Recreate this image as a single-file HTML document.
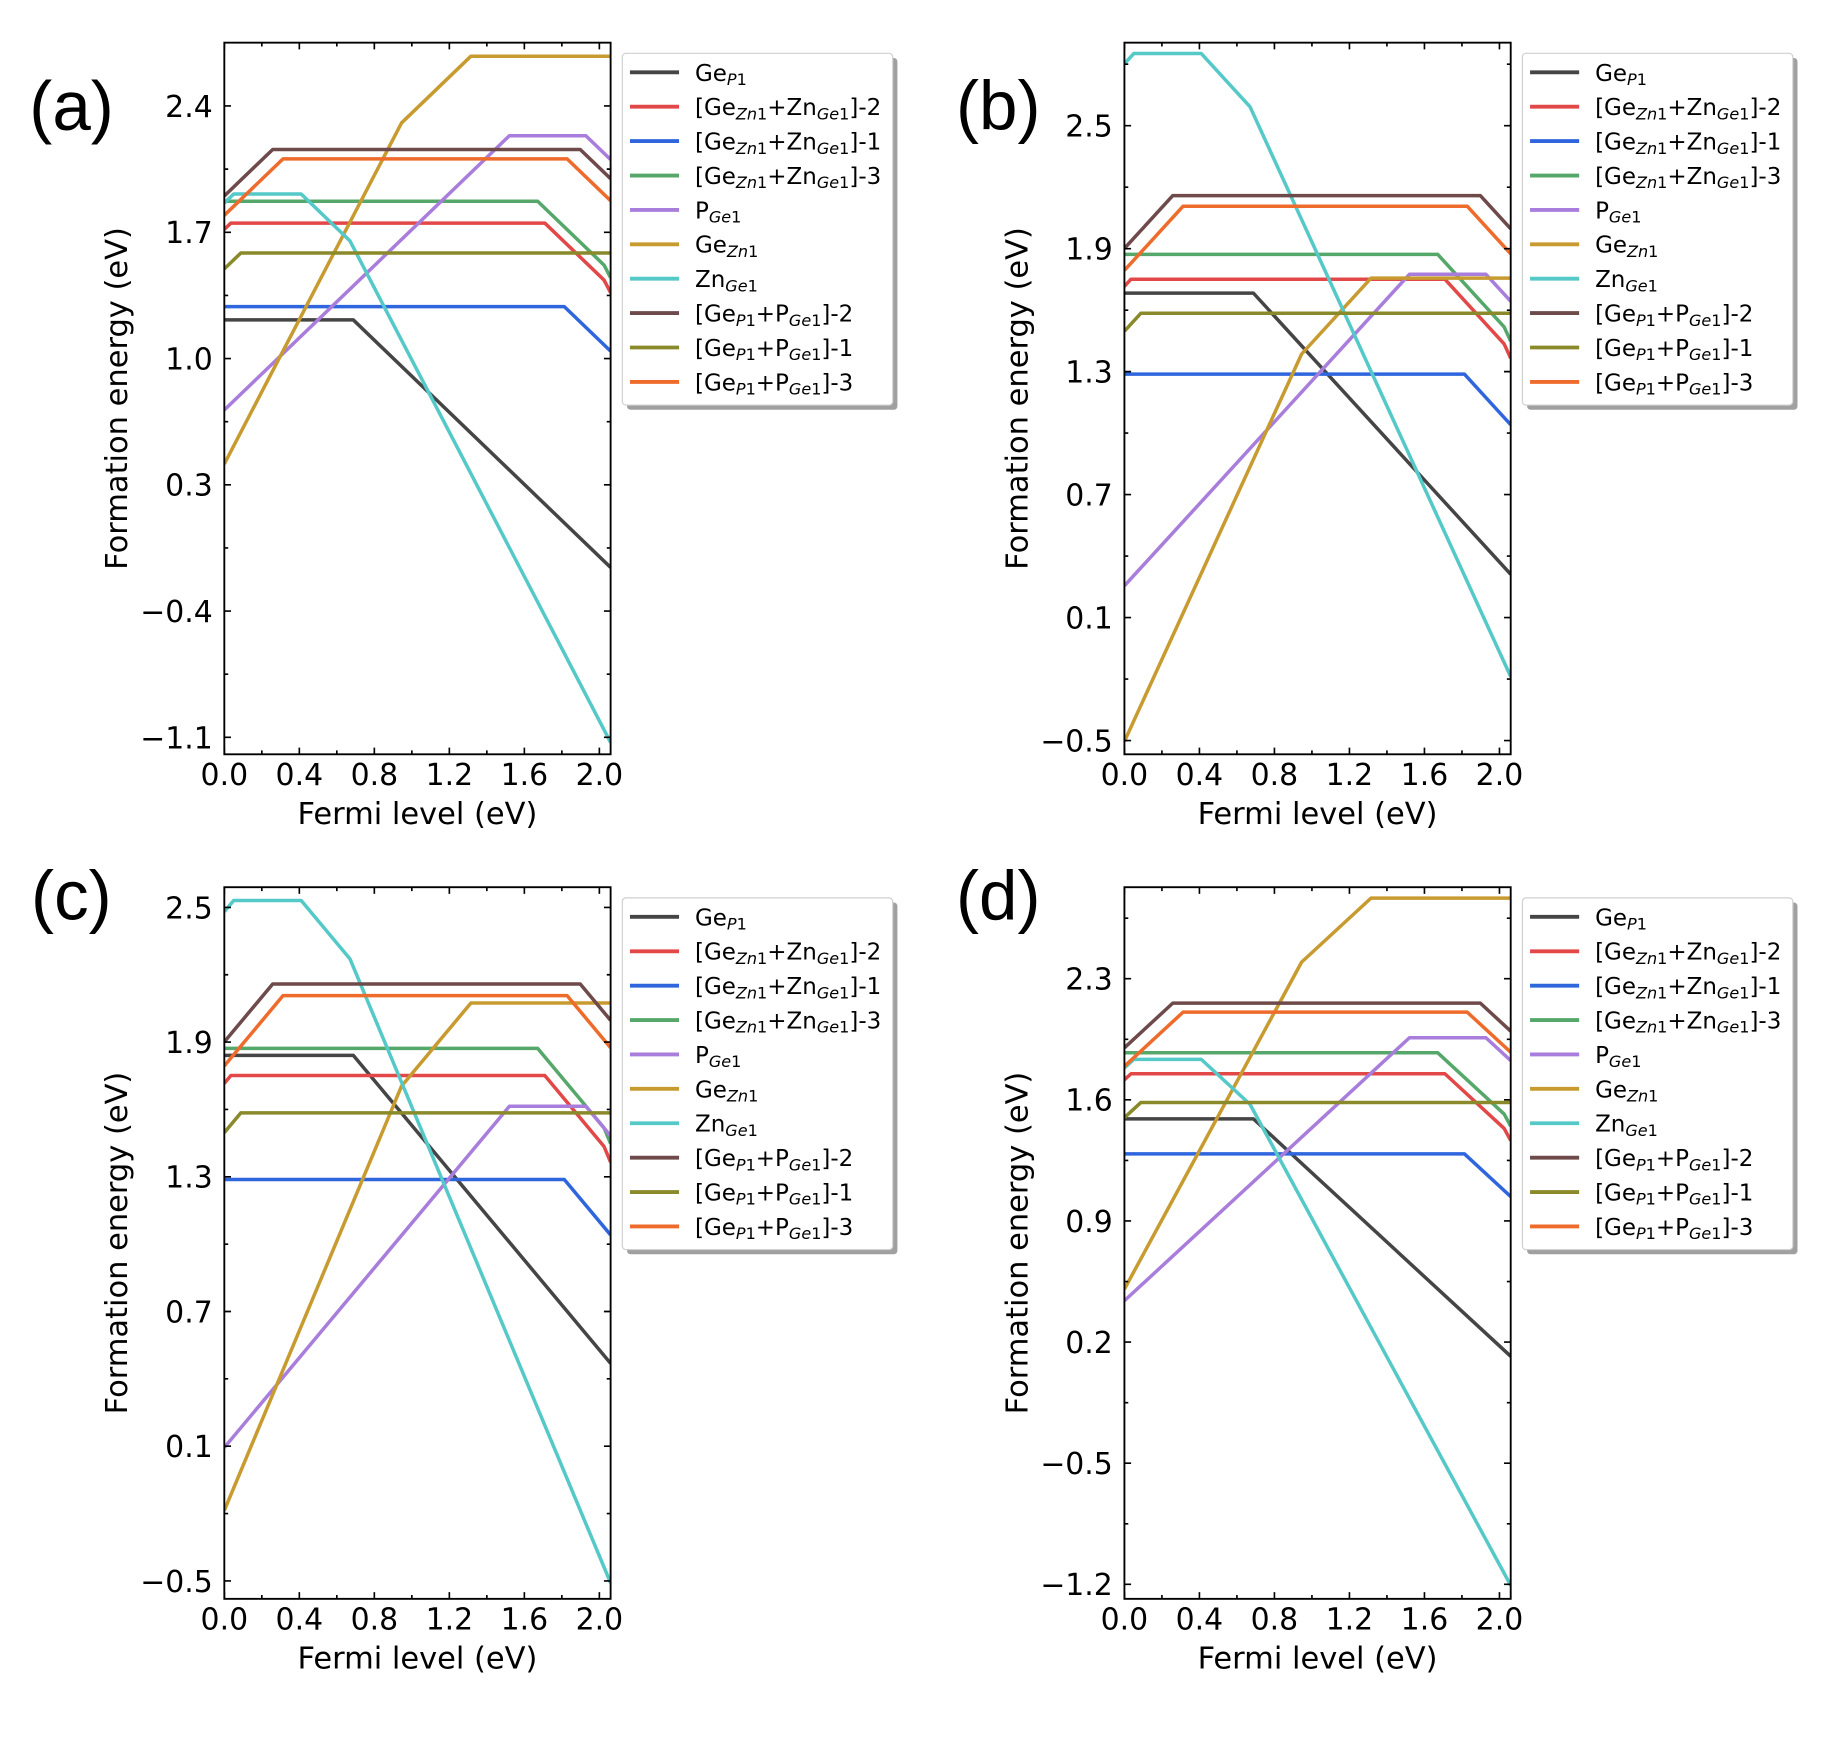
<!DOCTYPE html>
<html><head><meta charset="utf-8"><style>
html,body{margin:0;padding:0;background:#fff}
svg{display:block}
polyline{vector-effect:non-scaling-stroke;fill:none;stroke-width:3.5;stroke-linejoin:round}
.t{font-family:"DejaVu Sans","Liberation Sans",sans-serif;font-size:25.5px;fill:#000}
.ax{font-family:"DejaVu Sans","Liberation Sans",sans-serif;font-size:26px;fill:#000}
.lg{font-family:"DejaVu Sans","Liberation Sans",sans-serif;font-size:19.6px;fill:#000}
.s{font-size:13.7px}
.i{font-style:italic}
.pl{font-family:"Liberation Sans",Arial,sans-serif;font-size:59px;fill:#000}
</style></head><body>
<svg xmlns="http://www.w3.org/2000/svg" width="1834" height="1744" viewBox="0 0 1564.85 1488.05" preserveAspectRatio="none">
<defs><clipPath id="cp"><rect x="191.4" y="36.4" width="329.6" height="607.2"/></clipPath></defs>
<rect x="0" y="0" width="1564.85" height="1488.05" fill="#fff"/>

<!-- panel labels -->
<text class="pl" x="25" y="111">(a)</text>
<text class="pl" x="815.7" y="110.5">(b)</text>
<text class="pl" x="26.5" y="784.5">(c)</text>
<text class="pl" x="815.7" y="784.5">(d)</text>

<!-- ================= PANEL A ================= -->
<g transform="translate(0,0)">
 <g clip-path="url(#cp)">
  <g transform="matrix(160 0 0 -153.92 191.4 459.84)">
   <polyline stroke="#454545" points="0,1.214 0.688,1.214 2.06,-0.158"/>
   <polyline stroke="#e24848" points="0,1.716 0.035,1.751 1.709,1.751 2.025,1.435 2.06,1.365"/>
   <polyline stroke="#2f66dd" points="0,1.288 1.813,1.288 2.06,1.041"/>
   <polyline stroke="#56a86a" points="0,1.872 1.671,1.872 2.025,1.518 2.06,1.448"/>
   <polyline stroke="#a97ddb" points="0,0.715 1.52,2.235 1.928,2.235 2.06,2.103"/>
   <polyline stroke="#c89b30" points="0,0.416 0.945,2.306 1.315,2.676 2.06,2.676"/>
   <polyline stroke="#55c8c8" points="0,1.862 0.05,1.912 0.41,1.912 0.67,1.652 2.06,-1.128"/>
   <polyline stroke="#6e4a4a" points="0,1.901 0.258,2.159 1.898,2.159 2.06,1.997"/>
   <polyline stroke="#8a8a2b" points="0,1.497 0.088,1.585 2.06,1.585"/>
   <polyline stroke="#ee6b2b" points="0,1.794 0.313,2.107 1.828,2.107 2.06,1.875"/>
  </g>
 </g>
 <rect x="191.4" y="36.4" width="329.6" height="607.2" fill="none" stroke="#000" stroke-width="1.6"/>
 <path stroke="#000" stroke-width="1.4" fill="none" d="M191.4 643.6v-5.7M255.4 643.6v-5.7M319.4 643.6v-5.7M383.4 643.6v-5.7M447.4 643.6v-5.7M511.4 643.6v-5.7M223.4 643.6v-3.3M287.4 643.6v-3.3M351.4 643.6v-3.3M415.4 643.6v-3.3M479.4 643.6v-3.3M191.4 36.4v5.7M255.4 36.4v5.7M319.4 36.4v5.7M383.4 36.4v5.7M447.4 36.4v5.7M511.4 36.4v5.7M223.4 36.4v3.3M287.4 36.4v3.3M351.4 36.4v3.3M415.4 36.4v3.3M479.4 36.4v3.3
 M191.4 90.43h5.7M191.4 198.18h5.7M191.4 305.92h5.7M191.4 413.66h5.7M191.4 521.41h5.7M191.4 629.15h5.7
 M521 90.43h-5.7M521 198.18h-5.7M521 305.92h-5.7M521 413.66h-5.7M521 521.41h-5.7M521 629.15h-5.7
 M191.4 144.3h3.3M191.4 252.05h3.3M191.4 359.79h3.3M191.4 467.54h3.3M191.4 575.28h3.3
 M521 144.3h-3.3M521 252.05h-3.3M521 359.79h-3.3M521 467.54h-3.3M521 575.28h-3.3"/>
 <g class="t" text-anchor="end">
  <text x="181.5" y="99.73">2.4</text><text x="181.5" y="207.48">1.7</text><text x="181.5" y="315.22">1.0</text><text x="181.5" y="422.96">0.3</text><text x="181.5" y="530.71">−0.4</text><text x="181.5" y="638.45">−1.1</text>
 </g>
 <g class="t" text-anchor="middle">
  <text x="191.4" y="669.8">0.0</text><text x="255.4" y="669.8">0.4</text><text x="319.4" y="669.8">0.8</text><text x="383.4" y="669.8">1.2</text><text x="447.4" y="669.8">1.6</text><text x="511.4" y="669.8">2.0</text>
 </g>
 <text class="ax" x="356.2" y="703" text-anchor="middle">Fermi level (eV)</text>
 <text class="ax" transform="translate(108.5,340) rotate(-90)" text-anchor="middle">Formation energy (eV)</text>
 <g>
  <rect x="535" y="49.5" width="230.7" height="300.1" rx="3" fill="#a0a0a0"/>
  <rect x="531" y="45.5" width="230.7" height="300.1" rx="3" fill="#fff" stroke="#d0d0d0" stroke-width="1"/>
  <g stroke-width="3.3">
   <line x1="537.5" x2="579.4" y1="61.7" y2="61.7" stroke="#454545"/>
   <line x1="537.5" x2="579.4" y1="91.05" y2="91.05" stroke="#e24848"/>
   <line x1="537.5" x2="579.4" y1="120.4" y2="120.4" stroke="#2f66dd"/>
   <line x1="537.5" x2="579.4" y1="149.75" y2="149.75" stroke="#56a86a"/>
   <line x1="537.5" x2="579.4" y1="179.1" y2="179.1" stroke="#a97ddb"/>
   <line x1="537.5" x2="579.4" y1="208.45" y2="208.45" stroke="#c89b30"/>
   <line x1="537.5" x2="579.4" y1="237.8" y2="237.8" stroke="#55c8c8"/>
   <line x1="537.5" x2="579.4" y1="267.15" y2="267.15" stroke="#6e4a4a"/>
   <line x1="537.5" x2="579.4" y1="296.5" y2="296.5" stroke="#8a8a2b"/>
   <line x1="537.5" x2="579.4" y1="325.85" y2="325.85" stroke="#ee6b2b"/>
  </g>
  <g class="lg">
   <text x="593" y="68.9">Ge<tspan class="s" dy="3.6"><tspan class="i">P</tspan>1</tspan></text>
   <text x="593" y="98.25">[Ge<tspan class="s" dy="3.6"><tspan class="i">Zn</tspan>1</tspan><tspan dy="-3.6">+Zn</tspan><tspan class="s" dy="3.6"><tspan class="i">Ge</tspan>1</tspan><tspan dy="-3.6">]-2</tspan></text>
   <text x="593" y="127.6">[Ge<tspan class="s" dy="3.6"><tspan class="i">Zn</tspan>1</tspan><tspan dy="-3.6">+Zn</tspan><tspan class="s" dy="3.6"><tspan class="i">Ge</tspan>1</tspan><tspan dy="-3.6">]-1</tspan></text>
   <text x="593" y="156.95">[Ge<tspan class="s" dy="3.6"><tspan class="i">Zn</tspan>1</tspan><tspan dy="-3.6">+Zn</tspan><tspan class="s" dy="3.6"><tspan class="i">Ge</tspan>1</tspan><tspan dy="-3.6">]-3</tspan></text>
   <text x="593" y="186.3">P<tspan class="s" dy="3.6"><tspan class="i">Ge</tspan>1</tspan></text>
   <text x="593" y="215.65">Ge<tspan class="s" dy="3.6"><tspan class="i">Zn</tspan>1</tspan></text>
   <text x="593" y="245">Zn<tspan class="s" dy="3.6"><tspan class="i">Ge</tspan>1</tspan></text>
   <text x="593" y="274.35">[Ge<tspan class="s" dy="3.6"><tspan class="i">P</tspan>1</tspan><tspan dy="-3.6">+P</tspan><tspan class="s" dy="3.6"><tspan class="i">Ge</tspan>1</tspan><tspan dy="-3.6">]-2</tspan></text>
   <text x="593" y="303.7">[Ge<tspan class="s" dy="3.6"><tspan class="i">P</tspan>1</tspan><tspan dy="-3.6">+P</tspan><tspan class="s" dy="3.6"><tspan class="i">Ge</tspan>1</tspan><tspan dy="-3.6">]-1</tspan></text>
   <text x="593" y="333.05">[Ge<tspan class="s" dy="3.6"><tspan class="i">P</tspan>1</tspan><tspan dy="-3.6">+P</tspan><tspan class="s" dy="3.6"><tspan class="i">Ge</tspan>1</tspan><tspan dy="-3.6">]-3</tspan></text>
  </g>
 </g>
</g>

<!-- ================= PANEL B ================= -->
<g transform="translate(768,0)">
 <g clip-path="url(#cp)">
  <g transform="matrix(160 0 0 -174.88 191.4 544.43)">
   <polyline stroke="#454545" points="0,1.683 0.688,1.683 2.06,0.311"/>
   <polyline stroke="#e24848" points="0,1.716 0.035,1.751 1.709,1.751 2.025,1.435 2.06,1.365"/>
   <polyline stroke="#2f66dd" points="0,1.288 1.813,1.288 2.06,1.041"/>
   <polyline stroke="#56a86a" points="0,1.872 1.671,1.872 2.025,1.518 2.06,1.448"/>
   <polyline stroke="#a97ddb" points="0,0.255 1.52,1.775 1.928,1.775 2.06,1.643"/>
   <polyline stroke="#c89b30" points="0,-0.504 0.945,1.386 1.315,1.756 2.06,1.756"/>
   <polyline stroke="#55c8c8" points="0,2.802 0.05,2.852 0.41,2.852 0.67,2.592 2.06,-0.188"/>
   <polyline stroke="#6e4a4a" points="0,1.901 0.258,2.159 1.898,2.159 2.06,1.997"/>
   <polyline stroke="#8a8a2b" points="0,1.497 0.088,1.585 2.06,1.585"/>
   <polyline stroke="#ee6b2b" points="0,1.794 0.313,2.107 1.828,2.107 2.06,1.875"/>
  </g>
 </g>
 <rect x="191.4" y="36.4" width="329.6" height="607.2" fill="none" stroke="#000" stroke-width="1.6"/>
 <path stroke="#000" stroke-width="1.4" fill="none" d="M191.4 643.6v-5.7M255.4 643.6v-5.7M319.4 643.6v-5.7M383.4 643.6v-5.7M447.4 643.6v-5.7M511.4 643.6v-5.7M223.4 643.6v-3.3M287.4 643.6v-3.3M351.4 643.6v-3.3M415.4 643.6v-3.3M479.4 643.6v-3.3M191.4 36.4v5.7M255.4 36.4v5.7M319.4 36.4v5.7M383.4 36.4v5.7M447.4 36.4v5.7M511.4 36.4v5.7M223.4 36.4v3.3M287.4 36.4v3.3M351.4 36.4v3.3M415.4 36.4v3.3M479.4 36.4v3.3
 M191.4 107.23h5.7M191.4 212.16h5.7M191.4 317.09h5.7M191.4 422.01h5.7M191.4 526.94h5.7M191.4 631.87h5.7
 M521 107.23h-5.7M521 212.16h-5.7M521 317.09h-5.7M521 422.01h-5.7M521 526.94h-5.7M521 631.87h-5.7
 M191.4 54.77h3.3M191.4 159.69h3.3M191.4 264.62h3.3M191.4 369.55h3.3M191.4 474.48h3.3M191.4 579.41h3.3
 M521 54.77h-3.3M521 159.69h-3.3M521 264.62h-3.3M521 369.55h-3.3M521 474.48h-3.3M521 579.41h-3.3"/>
 <g class="t" text-anchor="end">
  <text x="181.5" y="116.53">2.5</text><text x="181.5" y="221.46">1.9</text><text x="181.5" y="326.39">1.3</text><text x="181.5" y="431.31">0.7</text><text x="181.5" y="536.24">0.1</text><text x="181.5" y="641.17">−0.5</text>
 </g>
 <g class="t" text-anchor="middle">
  <text x="191.4" y="669.8">0.0</text><text x="255.4" y="669.8">0.4</text><text x="319.4" y="669.8">0.8</text><text x="383.4" y="669.8">1.2</text><text x="447.4" y="669.8">1.6</text><text x="511.4" y="669.8">2.0</text>
 </g>
 <text class="ax" x="356.2" y="703" text-anchor="middle">Fermi level (eV)</text>
 <text class="ax" transform="translate(108.5,340) rotate(-90)" text-anchor="middle">Formation energy (eV)</text>
 <g>
  <rect x="535" y="49.5" width="230.7" height="300.1" rx="3" fill="#a0a0a0"/>
  <rect x="531" y="45.5" width="230.7" height="300.1" rx="3" fill="#fff" stroke="#d0d0d0" stroke-width="1"/>
  <g stroke-width="3.3">
   <line x1="537.5" x2="579.4" y1="61.7" y2="61.7" stroke="#454545"/>
   <line x1="537.5" x2="579.4" y1="91.05" y2="91.05" stroke="#e24848"/>
   <line x1="537.5" x2="579.4" y1="120.4" y2="120.4" stroke="#2f66dd"/>
   <line x1="537.5" x2="579.4" y1="149.75" y2="149.75" stroke="#56a86a"/>
   <line x1="537.5" x2="579.4" y1="179.1" y2="179.1" stroke="#a97ddb"/>
   <line x1="537.5" x2="579.4" y1="208.45" y2="208.45" stroke="#c89b30"/>
   <line x1="537.5" x2="579.4" y1="237.8" y2="237.8" stroke="#55c8c8"/>
   <line x1="537.5" x2="579.4" y1="267.15" y2="267.15" stroke="#6e4a4a"/>
   <line x1="537.5" x2="579.4" y1="296.5" y2="296.5" stroke="#8a8a2b"/>
   <line x1="537.5" x2="579.4" y1="325.85" y2="325.85" stroke="#ee6b2b"/>
  </g>
  <g class="lg">
   <text x="593" y="68.9">Ge<tspan class="s" dy="3.6"><tspan class="i">P</tspan>1</tspan></text>
   <text x="593" y="98.25">[Ge<tspan class="s" dy="3.6"><tspan class="i">Zn</tspan>1</tspan><tspan dy="-3.6">+Zn</tspan><tspan class="s" dy="3.6"><tspan class="i">Ge</tspan>1</tspan><tspan dy="-3.6">]-2</tspan></text>
   <text x="593" y="127.6">[Ge<tspan class="s" dy="3.6"><tspan class="i">Zn</tspan>1</tspan><tspan dy="-3.6">+Zn</tspan><tspan class="s" dy="3.6"><tspan class="i">Ge</tspan>1</tspan><tspan dy="-3.6">]-1</tspan></text>
   <text x="593" y="156.95">[Ge<tspan class="s" dy="3.6"><tspan class="i">Zn</tspan>1</tspan><tspan dy="-3.6">+Zn</tspan><tspan class="s" dy="3.6"><tspan class="i">Ge</tspan>1</tspan><tspan dy="-3.6">]-3</tspan></text>
   <text x="593" y="186.3">P<tspan class="s" dy="3.6"><tspan class="i">Ge</tspan>1</tspan></text>
   <text x="593" y="215.65">Ge<tspan class="s" dy="3.6"><tspan class="i">Zn</tspan>1</tspan></text>
   <text x="593" y="245">Zn<tspan class="s" dy="3.6"><tspan class="i">Ge</tspan>1</tspan></text>
   <text x="593" y="274.35">[Ge<tspan class="s" dy="3.6"><tspan class="i">P</tspan>1</tspan><tspan dy="-3.6">+P</tspan><tspan class="s" dy="3.6"><tspan class="i">Ge</tspan>1</tspan><tspan dy="-3.6">]-2</tspan></text>
   <text x="593" y="303.7">[Ge<tspan class="s" dy="3.6"><tspan class="i">P</tspan>1</tspan><tspan dy="-3.6">+P</tspan><tspan class="s" dy="3.6"><tspan class="i">Ge</tspan>1</tspan><tspan dy="-3.6">]-1</tspan></text>
   <text x="593" y="333.05">[Ge<tspan class="s" dy="3.6"><tspan class="i">P</tspan>1</tspan><tspan dy="-3.6">+P</tspan><tspan class="s" dy="3.6"><tspan class="i">Ge</tspan>1</tspan><tspan dy="-3.6">]-3</tspan></text>
  </g>
 </g>
</g>

<!-- ================= PANEL C ================= -->
<g transform="translate(0,720.6)">
 <g clip-path="url(#cp)">
  <g transform="matrix(160 0 0 -191.55 191.4 532.51)">
   <polyline stroke="#454545" points="0,1.841 0.688,1.841 2.06,0.469"/>
   <polyline stroke="#e24848" points="0,1.716 0.035,1.751 1.709,1.751 2.025,1.435 2.06,1.365"/>
   <polyline stroke="#2f66dd" points="0,1.288 1.813,1.288 2.06,1.041"/>
   <polyline stroke="#56a86a" points="0,1.872 1.671,1.872 2.025,1.518 2.06,1.448"/>
   <polyline stroke="#a97ddb" points="0,0.094 1.52,1.614 1.928,1.614 2.06,1.482"/>
   <polyline stroke="#c89b30" points="0,-0.186 0.945,1.704 1.315,2.074 2.06,2.074"/>
   <polyline stroke="#55c8c8" points="0,2.481 0.05,2.531 0.41,2.531 0.67,2.271 2.06,-0.509"/>
   <polyline stroke="#6e4a4a" points="0,1.901 0.258,2.159 1.898,2.159 2.06,1.997"/>
   <polyline stroke="#8a8a2b" points="0,1.497 0.088,1.585 2.06,1.585"/>
   <polyline stroke="#ee6b2b" points="0,1.794 0.313,2.107 1.828,2.107 2.06,1.875"/>
  </g>
 </g>
 <rect x="191.4" y="36.4" width="329.6" height="607.2" fill="none" stroke="#000" stroke-width="1.6"/>
 <path stroke="#000" stroke-width="1.4" fill="none" d="M191.4 643.6v-5.7M255.4 643.6v-5.7M319.4 643.6v-5.7M383.4 643.6v-5.7M447.4 643.6v-5.7M511.4 643.6v-5.7M223.4 643.6v-3.3M287.4 643.6v-3.3M351.4 643.6v-3.3M415.4 643.6v-3.3M479.4 643.6v-3.3M191.4 36.4v5.7M255.4 36.4v5.7M319.4 36.4v5.7M383.4 36.4v5.7M447.4 36.4v5.7M511.4 36.4v5.7M223.4 36.4v3.3M287.4 36.4v3.3M351.4 36.4v3.3M415.4 36.4v3.3M479.4 36.4v3.3
 M191.4 53.63h5.7M191.4 168.56h5.7M191.4 283.49h5.7M191.4 398.42h5.7M191.4 513.36h5.7M191.4 628.29h5.7
 M521 53.63h-5.7M521 168.56h-5.7M521 283.49h-5.7M521 398.42h-5.7M521 513.36h-5.7M521 628.29h-5.7
 M191.4 111.1h3.3M191.4 226.03h3.3M191.4 340.96h3.3M191.4 455.89h3.3M191.4 570.82h3.3
 M521 111.1h-3.3M521 226.03h-3.3M521 340.96h-3.3M521 455.89h-3.3M521 570.82h-3.3"/>
 <g class="t" text-anchor="end">
  <text x="181.5" y="62.93">2.5</text><text x="181.5" y="177.86">1.9</text><text x="181.5" y="292.79">1.3</text><text x="181.5" y="407.72">0.7</text><text x="181.5" y="522.66">0.1</text><text x="181.5" y="637.59">−0.5</text>
 </g>
 <g class="t" text-anchor="middle">
  <text x="191.4" y="669.8">0.0</text><text x="255.4" y="669.8">0.4</text><text x="319.4" y="669.8">0.8</text><text x="383.4" y="669.8">1.2</text><text x="447.4" y="669.8">1.6</text><text x="511.4" y="669.8">2.0</text>
 </g>
 <text class="ax" x="356.2" y="703" text-anchor="middle">Fermi level (eV)</text>
 <text class="ax" transform="translate(108.5,340) rotate(-90)" text-anchor="middle">Formation energy (eV)</text>
 <g>
  <rect x="535" y="49.5" width="230.7" height="300.1" rx="3" fill="#a0a0a0"/>
  <rect x="531" y="45.5" width="230.7" height="300.1" rx="3" fill="#fff" stroke="#d0d0d0" stroke-width="1"/>
  <g stroke-width="3.3">
   <line x1="537.5" x2="579.4" y1="61.7" y2="61.7" stroke="#454545"/>
   <line x1="537.5" x2="579.4" y1="91.05" y2="91.05" stroke="#e24848"/>
   <line x1="537.5" x2="579.4" y1="120.4" y2="120.4" stroke="#2f66dd"/>
   <line x1="537.5" x2="579.4" y1="149.75" y2="149.75" stroke="#56a86a"/>
   <line x1="537.5" x2="579.4" y1="179.1" y2="179.1" stroke="#a97ddb"/>
   <line x1="537.5" x2="579.4" y1="208.45" y2="208.45" stroke="#c89b30"/>
   <line x1="537.5" x2="579.4" y1="237.8" y2="237.8" stroke="#55c8c8"/>
   <line x1="537.5" x2="579.4" y1="267.15" y2="267.15" stroke="#6e4a4a"/>
   <line x1="537.5" x2="579.4" y1="296.5" y2="296.5" stroke="#8a8a2b"/>
   <line x1="537.5" x2="579.4" y1="325.85" y2="325.85" stroke="#ee6b2b"/>
  </g>
  <g class="lg">
   <text x="593" y="68.9">Ge<tspan class="s" dy="3.6"><tspan class="i">P</tspan>1</tspan></text>
   <text x="593" y="98.25">[Ge<tspan class="s" dy="3.6"><tspan class="i">Zn</tspan>1</tspan><tspan dy="-3.6">+Zn</tspan><tspan class="s" dy="3.6"><tspan class="i">Ge</tspan>1</tspan><tspan dy="-3.6">]-2</tspan></text>
   <text x="593" y="127.6">[Ge<tspan class="s" dy="3.6"><tspan class="i">Zn</tspan>1</tspan><tspan dy="-3.6">+Zn</tspan><tspan class="s" dy="3.6"><tspan class="i">Ge</tspan>1</tspan><tspan dy="-3.6">]-1</tspan></text>
   <text x="593" y="156.95">[Ge<tspan class="s" dy="3.6"><tspan class="i">Zn</tspan>1</tspan><tspan dy="-3.6">+Zn</tspan><tspan class="s" dy="3.6"><tspan class="i">Ge</tspan>1</tspan><tspan dy="-3.6">]-3</tspan></text>
   <text x="593" y="186.3">P<tspan class="s" dy="3.6"><tspan class="i">Ge</tspan>1</tspan></text>
   <text x="593" y="215.65">Ge<tspan class="s" dy="3.6"><tspan class="i">Zn</tspan>1</tspan></text>
   <text x="593" y="245">Zn<tspan class="s" dy="3.6"><tspan class="i">Ge</tspan>1</tspan></text>
   <text x="593" y="274.35">[Ge<tspan class="s" dy="3.6"><tspan class="i">P</tspan>1</tspan><tspan dy="-3.6">+P</tspan><tspan class="s" dy="3.6"><tspan class="i">Ge</tspan>1</tspan><tspan dy="-3.6">]-2</tspan></text>
   <text x="593" y="303.7">[Ge<tspan class="s" dy="3.6"><tspan class="i">P</tspan>1</tspan><tspan dy="-3.6">+P</tspan><tspan class="s" dy="3.6"><tspan class="i">Ge</tspan>1</tspan><tspan dy="-3.6">]-1</tspan></text>
   <text x="593" y="333.05">[Ge<tspan class="s" dy="3.6"><tspan class="i">P</tspan>1</tspan><tspan dy="-3.6">+P</tspan><tspan class="s" dy="3.6"><tspan class="i">Ge</tspan>1</tspan><tspan dy="-3.6">]-3</tspan></text>
  </g>
 </g>
</g>

<!-- ================= PANEL D ================= -->
<g transform="translate(768,720.6)">
 <g clip-path="url(#cp)">
  <g transform="matrix(160 0 0 -147.63 191.4 454.05)">
   <polyline stroke="#454545" points="0,1.490 0.688,1.490 2.06,0.118"/>
   <polyline stroke="#e24848" points="0,1.716 0.035,1.751 1.709,1.751 2.025,1.435 2.06,1.365"/>
   <polyline stroke="#2f66dd" points="0,1.288 1.813,1.288 2.06,1.041"/>
   <polyline stroke="#56a86a" points="0,1.872 1.671,1.872 2.025,1.518 2.06,1.448"/>
   <polyline stroke="#a97ddb" points="0,0.439 1.52,1.959 1.928,1.959 2.06,1.827"/>
   <polyline stroke="#c89b30" points="0,0.506 0.945,2.396 1.315,2.766 2.06,2.766"/>
   <polyline stroke="#55c8c8" points="0,1.784 0.05,1.834 0.41,1.834 0.67,1.574 2.06,-1.206"/>
   <polyline stroke="#6e4a4a" points="0,1.901 0.258,2.159 1.898,2.159 2.06,1.997"/>
   <polyline stroke="#8a8a2b" points="0,1.497 0.088,1.585 2.06,1.585"/>
   <polyline stroke="#ee6b2b" points="0,1.794 0.313,2.107 1.828,2.107 2.06,1.875"/>
  </g>
 </g>
 <rect x="191.4" y="36.4" width="329.6" height="607.2" fill="none" stroke="#000" stroke-width="1.6"/>
 <path stroke="#000" stroke-width="1.4" fill="none" d="M191.4 643.6v-5.7M255.4 643.6v-5.7M319.4 643.6v-5.7M383.4 643.6v-5.7M447.4 643.6v-5.7M511.4 643.6v-5.7M223.4 643.6v-3.3M287.4 643.6v-3.3M351.4 643.6v-3.3M415.4 643.6v-3.3M479.4 643.6v-3.3M191.4 36.4v5.7M255.4 36.4v5.7M319.4 36.4v5.7M383.4 36.4v5.7M447.4 36.4v5.7M511.4 36.4v5.7M223.4 36.4v3.3M287.4 36.4v3.3M351.4 36.4v3.3M415.4 36.4v3.3M479.4 36.4v3.3
 M191.4 114.5h5.7M191.4 217.84h5.7M191.4 321.18h5.7M191.4 424.52h5.7M191.4 527.87h5.7M191.4 631.21h5.7
 M521 114.5h-5.7M521 217.84h-5.7M521 321.18h-5.7M521 424.52h-5.7M521 527.87h-5.7M521 631.21h-5.7
 M191.4 62.83h3.3M191.4 166.17h3.3M191.4 269.51h3.3M191.4 372.85h3.3M191.4 476.19h3.3M191.4 579.54h3.3
 M521 62.83h-3.3M521 166.17h-3.3M521 269.51h-3.3M521 372.85h-3.3M521 476.19h-3.3M521 579.54h-3.3"/>
 <g class="t" text-anchor="end">
  <text x="181.5" y="123.8">2.3</text><text x="181.5" y="227.14">1.6</text><text x="181.5" y="330.48">0.9</text><text x="181.5" y="433.82">0.2</text><text x="181.5" y="537.17">−0.5</text><text x="181.5" y="640.51">−1.2</text>
 </g>
 <g class="t" text-anchor="middle">
  <text x="191.4" y="669.8">0.0</text><text x="255.4" y="669.8">0.4</text><text x="319.4" y="669.8">0.8</text><text x="383.4" y="669.8">1.2</text><text x="447.4" y="669.8">1.6</text><text x="511.4" y="669.8">2.0</text>
 </g>
 <text class="ax" x="356.2" y="703" text-anchor="middle">Fermi level (eV)</text>
 <text class="ax" transform="translate(108.5,340) rotate(-90)" text-anchor="middle">Formation energy (eV)</text>
 <g>
  <rect x="535" y="49.5" width="230.7" height="300.1" rx="3" fill="#a0a0a0"/>
  <rect x="531" y="45.5" width="230.7" height="300.1" rx="3" fill="#fff" stroke="#d0d0d0" stroke-width="1"/>
  <g stroke-width="3.3">
   <line x1="537.5" x2="579.4" y1="61.7" y2="61.7" stroke="#454545"/>
   <line x1="537.5" x2="579.4" y1="91.05" y2="91.05" stroke="#e24848"/>
   <line x1="537.5" x2="579.4" y1="120.4" y2="120.4" stroke="#2f66dd"/>
   <line x1="537.5" x2="579.4" y1="149.75" y2="149.75" stroke="#56a86a"/>
   <line x1="537.5" x2="579.4" y1="179.1" y2="179.1" stroke="#a97ddb"/>
   <line x1="537.5" x2="579.4" y1="208.45" y2="208.45" stroke="#c89b30"/>
   <line x1="537.5" x2="579.4" y1="237.8" y2="237.8" stroke="#55c8c8"/>
   <line x1="537.5" x2="579.4" y1="267.15" y2="267.15" stroke="#6e4a4a"/>
   <line x1="537.5" x2="579.4" y1="296.5" y2="296.5" stroke="#8a8a2b"/>
   <line x1="537.5" x2="579.4" y1="325.85" y2="325.85" stroke="#ee6b2b"/>
  </g>
  <g class="lg">
   <text x="593" y="68.9">Ge<tspan class="s" dy="3.6"><tspan class="i">P</tspan>1</tspan></text>
   <text x="593" y="98.25">[Ge<tspan class="s" dy="3.6"><tspan class="i">Zn</tspan>1</tspan><tspan dy="-3.6">+Zn</tspan><tspan class="s" dy="3.6"><tspan class="i">Ge</tspan>1</tspan><tspan dy="-3.6">]-2</tspan></text>
   <text x="593" y="127.6">[Ge<tspan class="s" dy="3.6"><tspan class="i">Zn</tspan>1</tspan><tspan dy="-3.6">+Zn</tspan><tspan class="s" dy="3.6"><tspan class="i">Ge</tspan>1</tspan><tspan dy="-3.6">]-1</tspan></text>
   <text x="593" y="156.95">[Ge<tspan class="s" dy="3.6"><tspan class="i">Zn</tspan>1</tspan><tspan dy="-3.6">+Zn</tspan><tspan class="s" dy="3.6"><tspan class="i">Ge</tspan>1</tspan><tspan dy="-3.6">]-3</tspan></text>
   <text x="593" y="186.3">P<tspan class="s" dy="3.6"><tspan class="i">Ge</tspan>1</tspan></text>
   <text x="593" y="215.65">Ge<tspan class="s" dy="3.6"><tspan class="i">Zn</tspan>1</tspan></text>
   <text x="593" y="245">Zn<tspan class="s" dy="3.6"><tspan class="i">Ge</tspan>1</tspan></text>
   <text x="593" y="274.35">[Ge<tspan class="s" dy="3.6"><tspan class="i">P</tspan>1</tspan><tspan dy="-3.6">+P</tspan><tspan class="s" dy="3.6"><tspan class="i">Ge</tspan>1</tspan><tspan dy="-3.6">]-2</tspan></text>
   <text x="593" y="303.7">[Ge<tspan class="s" dy="3.6"><tspan class="i">P</tspan>1</tspan><tspan dy="-3.6">+P</tspan><tspan class="s" dy="3.6"><tspan class="i">Ge</tspan>1</tspan><tspan dy="-3.6">]-1</tspan></text>
   <text x="593" y="333.05">[Ge<tspan class="s" dy="3.6"><tspan class="i">P</tspan>1</tspan><tspan dy="-3.6">+P</tspan><tspan class="s" dy="3.6"><tspan class="i">Ge</tspan>1</tspan><tspan dy="-3.6">]-3</tspan></text>
  </g>
 </g>
</g>
</svg>
</body></html>
